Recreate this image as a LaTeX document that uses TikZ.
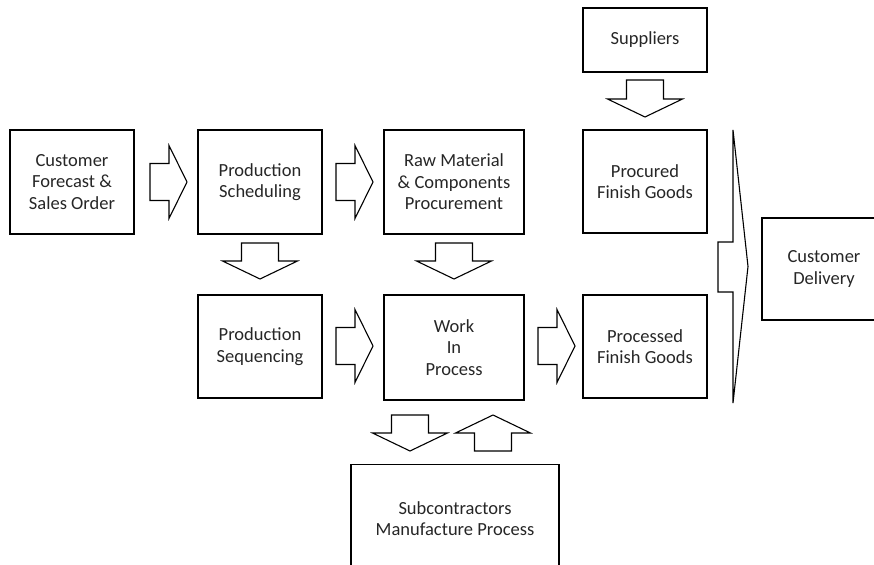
\documentclass[tikz,border=0pt]{standalone}
\usepackage{fontspec}
\setmainfont{Carlito}
\begin{document}
\begin{tikzpicture}[x=1pt,y=-1pt,
  box/.style={draw,line width=1.3pt,rectangle,align=center,inner sep=0pt,
    font=\fontsize{18.5}{21.5}\selectfont,text=black!85},
  blockarrow/.style={draw,line width=1.1pt,line join=miter,fill=white}]
\useasboundingbox (0,0) rectangle (874,564);
% right-pointing block arrow: tail x, tip x, centre y
\newcommand\rightblock[3]{%
  \draw[blockarrow] (#1,#3-18.5) -- ({#2-18},#3-18.5) -- ({#2-18},#3-36.5) -- (#2,#3)
    -- ({#2-18},#3+36.5) -- ({#2-18},#3+18.5) -- (#1,#3+18.5) -- cycle;}
% vertical block arrow: centre x, tail y, tip y
\newcommand\vertblock[3]{%
  \draw[blockarrow] (#1-18.5,#2) -- (#1-18.5,{#3-sign(#3-#2)*18}) -- (#1-37.5,{#3-sign(#3-#2)*18})
    -- (#1,#3) -- (#1+37.5,{#3-sign(#3-#2)*18}) -- (#1+18.5,{#3-sign(#3-#2)*18}) -- (#1+18.5,#2) -- cycle;}

\node[box,minimum width=124pt,minimum height=104pt] (cust) at (72,182) {Customer\\Forecast \&\\Sales Order};
\node[box,minimum width=124pt,minimum height=104pt] (sched) at (260,182) {Production\\Scheduling};
\node[box,minimum width=140pt,minimum height=104pt] (raw) at (454,182) {Raw Material\\\& Components\\Procurement};
\node[box,minimum width=124pt,minimum height=103pt] (procured) at (645,181.5) {Procured\\Finish Goods};
\node[box,minimum width=124pt,minimum height=64pt] (supp) at (645,40) {Suppliers};
\node[box,minimum width=124pt,minimum height=103pt] (seq) at (260,346.5) {Production\\Sequencing};
\node[box,minimum width=140pt,minimum height=105pt] (wip) at (454,347.5) {Work\\In\\Process};
\node[box,minimum width=124pt,minimum height=103pt] (processed) at (645,346.5) {Processed\\Finish Goods};
\begin{scope}
\clip (0,0) rectangle (874,564);
\node[box,minimum width=124pt,minimum height=102pt] (deliv) at (824,269) {Customer\\Delivery};
\node[box,minimum width=208pt,minimum height=108pt,anchor=north] (sub) at (455,464)
  {Subcontractors\\Manufacture Process};
\end{scope}

% flow arrows between the boxes
\rightblock{150}{187}{182}
\rightblock{336}{373}{182}
\rightblock{336}{373}{346}
\rightblock{538}{575}{346}
\vertblock{260}{243}{279}
\vertblock{454}{243}{279}
\vertblock{645}{80}{117}
\vertblock{410}{415}{451}
\vertblock{493}{451}{415}

% large arrow collecting both finished-goods streams
\draw[blockarrow] (718,242) -- (733,242) -- (733,130) -- (748,266.5) -- (733,403)
  -- (733,292) -- (718,292) -- cycle;
\end{tikzpicture}
\end{document}
